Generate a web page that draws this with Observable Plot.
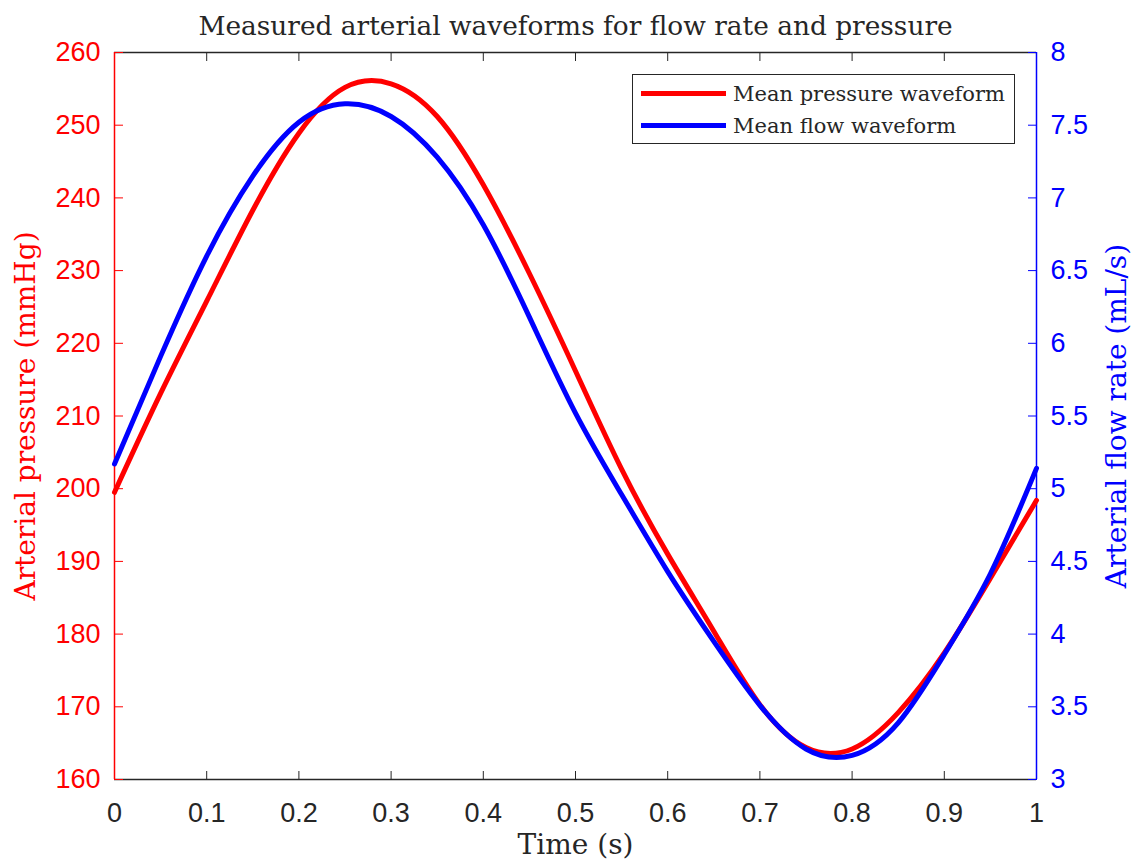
<!DOCTYPE html>
<html><head><meta charset="utf-8">
<script src="https://cdn.jsdelivr.net/npm/d3@7"></script>
<script src="https://cdn.jsdelivr.net/npm/@observablehq/plot@0.6"></script>
<style>
body{margin:0;background:#fff}
#wrap{position:relative;width:1134px;height:861px}
.legend{position:absolute;left:632px;top:74px;width:383px;height:70px;border:1px solid #262626;background:#fff;box-sizing:border-box;font-family:"DejaVu Serif",serif;font-size:21px;color:#262626}
.legend .row{position:absolute;left:0;height:30px;width:100%}
.legend .sw{position:absolute;left:8px;width:85px;height:5px;top:12px}
.legend .lb{position:absolute;left:100px;top:0;line-height:30px;white-space:nowrap}
</style></head><body><div id="wrap"></div>
<script>
const title = "Measured arterial waveforms for flow rate and pressure";
const xLabel = "Time (s)";
const yLeftLabel = "Arterial pressure (mmHg)";
const yRightLabel = "Arterial flow rate (mL/s)";
const seriesNames = ["Mean pressure waveform", "Mean flow waveform"];
const seriesColors = ["#ff0000", "#0000ff"];

const time     = [0, 0.05, 0.1, 0.15, 0.2, 0.25, 0.3, 0.35, 0.4, 0.45, 0.5, 0.55, 0.6, 0.65, 0.7, 0.75, 0.8, 0.85, 0.9, 0.95, 1];
const pressure = [199.5, 213.1, 225.8, 238.3, 248.9, 255.2, 255.7, 251.2, 241.8, 229.6, 216.2, 202.7, 191.0, 180.4, 170.3, 164.4, 164.2, 169.2, 177.4, 187.7, 198.4];
const flow     = [5.17, 5.91, 6.60, 7.15, 7.52, 7.647, 7.56, 7.28, 6.815, 6.18, 5.52, 4.96, 4.43, 3.95, 3.51, 3.21, 3.166, 3.39, 3.86, 4.415, 5.14];

const xTicks = [0, 0.1, 0.2, 0.3, 0.4, 0.5, 0.6, 0.7, 0.8, 0.9, 1];
const pressureTicks = [160, 170, 180, 190, 200, 210, 220, 230, 240, 250, 260];
const flowTicks = [3, 3.5, 4, 4.5, 5, 5.5, 6, 6.5, 7, 7.5, 8];

// map flow (3..8) onto pressure scale (160..260)
const pDomain = [160, 260], fDomain = [3, 8];
const f2p = f => pDomain[0] + (f - fDomain[0]) * (pDomain[1] - pDomain[0]) / (fDomain[1] - fDomain[0]);
const p2f = p => fDomain[0] + (p - pDomain[0]) * (fDomain[1] - fDomain[0]) / (pDomain[1] - pDomain[0]);

const pData = time.map((t, i) => ({t, v: pressure[i]}));
const fData = time.map((t, i) => ({t, v: f2p(flow[i])}));

const sans = "Liberation Sans, Arial, sans-serif";
const serif = "DejaVu Serif, serif";
const dark = "#262626";

const chart = Plot.plot({
  width: 1134, height: 861,
  marginLeft: 114, marginRight: 98, marginTop: 52, marginBottom: 82,
  style: {background: "#fff", overflow: "visible"},
  x: {domain: [0, 1]},
  y: {domain: pDomain},
  marks: [
    Plot.ruleY([pDomain[0], pDomain[1]], {stroke: dark, strokeWidth: 1.3}),
    Plot.axisX({anchor: "bottom", ticks: xTicks, tickSize: -8, tickPadding: 31, tickFormat: d => String(d), fontSize: 27, fontFamily: sans, color: dark, stroke: dark, label: null}),
    Plot.axisX({anchor: "top", ticks: xTicks, tickSize: -8, tickFormat: () => "", color: dark, stroke: dark, label: null}),
    Plot.axisY({anchor: "left", ticks: pressureTicks, tickSize: -9, tickPadding: 23, tickFormat: d => String(d), fontSize: 27, fontFamily: sans, color: seriesColors[0], stroke: seriesColors[0], label: null}),
    Plot.axisY({anchor: "right", ticks: flowTicks.map(f2p), tickSize: -9, tickPadding: 23, tickFormat: p => String(+p2f(p).toFixed(1)), fontSize: 27, fontFamily: sans, color: seriesColors[1], stroke: seriesColors[1], label: null}),
    Plot.ruleX([0], {stroke: seriesColors[0], strokeWidth: 1.5}),
    Plot.ruleX([1], {stroke: seriesColors[1], strokeWidth: 1.5}),
    Plot.line(pData, {x: "t", y: "v", stroke: seriesColors[0], strokeWidth: 5, curve: "natural"}),
    Plot.line(fData, {x: "t", y: "v", stroke: seriesColors[1], strokeWidth: 5, curve: "natural"}),
    Plot.text([title], {frameAnchor: "top", lineAnchor: "middle", textAnchor: "middle", dy: -26, fontSize: 26.4, fontFamily: serif, fill: dark}),
    Plot.text([xLabel], {frameAnchor: "bottom", lineAnchor: "middle", textAnchor: "middle", dy: 66, fontSize: 28, fontFamily: serif, fill: dark}),
    Plot.text([yLeftLabel], {frameAnchor: "left", lineAnchor: "middle", textAnchor: "middle", dx: -88, rotate: -90, fontSize: 28, fontFamily: serif, fill: seriesColors[0]}),
    Plot.text([yRightLabel], {frameAnchor: "right", lineAnchor: "middle", textAnchor: "middle", dx: 81, rotate: -90, fontSize: 28, fontFamily: serif, fill: seriesColors[1]})
  ]
});
const wrap = document.getElementById("wrap");
wrap.appendChild(chart);

const lg = document.createElement("div");
lg.className = "legend";
seriesNames.forEach((name, i) => {
  const row = document.createElement("div");
  row.className = "row";
  row.style.top = (4 + i * 32) + "px";
  row.innerHTML = `<div class="sw" style="background:${seriesColors[i]}"></div><div class="lb">${name}</div>`;
  lg.appendChild(row);
});
wrap.appendChild(lg);
</script>
</body></html>
